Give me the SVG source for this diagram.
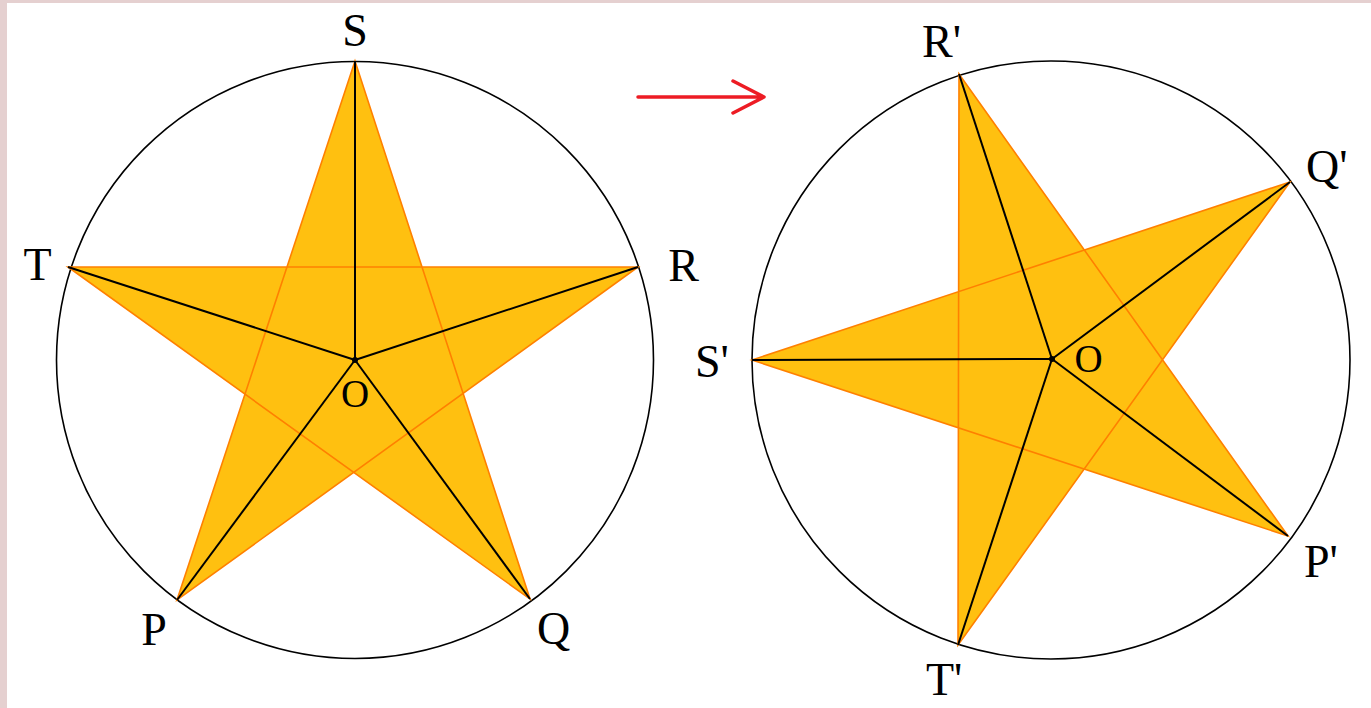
<svg xmlns="http://www.w3.org/2000/svg" width="1371" height="708" viewBox="0 0 1371 708">
<style>
.circ{fill:none;stroke:#000;stroke-width:1.6}
.star{fill:#FFC010;stroke:#FF8000;stroke-width:1.6;fill-rule:nonzero;stroke-linejoin:miter}
.rad{stroke:#000;stroke-width:2;fill:none}
.lbl{font-family:"Liberation Serif","Times New Roman",serif;font-size:46px;fill:#000}
.mid{text-anchor:middle}
.olbl{font-family:"Liberation Serif","Times New Roman",serif;font-size:39px;fill:#000;text-anchor:middle}
.arrow{stroke:#ED1C24;stroke-width:3.5;fill:none;stroke-linecap:round;stroke-linejoin:round}
</style>
<rect x="0" y="0" width="1371" height="708" fill="#E5D0D0"/>
<rect x="7" y="3" width="1364" height="705" fill="#FFFFFF"/>
<g id="left-figure">
<circle class="circ" cx="355" cy="360" r="298.5"/>
<polygon class="star" points="355,61 177,600 638,267 68,267 530,599"/>
<g class="rad">
<line x1="355" y1="360" x2="355" y2="61"/>
<line x1="355" y1="360" x2="638" y2="267"/>
<line x1="355" y1="360" x2="68" y2="267"/>
<line x1="355" y1="360" x2="177" y2="600"/>
<line x1="355" y1="360" x2="530" y2="599"/>
</g>
<circle cx="355" cy="360" r="3" fill="#000"/>
<text class="lbl mid" x="355" y="46">S</text>
<text class="lbl mid" x="37.5" y="280">T</text>
<text class="lbl mid" x="683.5" y="281">R</text>
<text class="lbl mid" x="154" y="645">P</text>
<text class="lbl mid" x="553.5" y="644">Q</text>
<text class="olbl" x="355" y="407">O</text>
</g>
<g id="connectors">
<path class="arrow" d="M638,97 H764 M733,81 L764,97 L733,113"/>
</g>
<g id="right-figure">
<circle class="circ" cx="1051" cy="360" r="299"/>
<polygon class="star" points="959,74 958,645 1290,182 752,360 1288,536"/>
<g class="rad">
<line x1="1052" y1="359" x2="959" y2="74"/>
<line x1="1052" y1="359" x2="1290" y2="182"/>
<line x1="1052" y1="359" x2="1288" y2="536"/>
<line x1="1052" y1="359" x2="958" y2="645"/>
<line x1="1052" y1="359" x2="752" y2="360"/>
</g>
<circle cx="1052" cy="359" r="3" fill="#000"/>
<text class="lbl" x="922" y="57">R'</text>
<text class="lbl" x="1306" y="182">Q'</text>
<text class="lbl" x="1304" y="577">P'</text>
<text class="lbl" x="926" y="695">T'</text>
<text class="lbl" x="695" y="377">S'</text>
<text class="olbl" x="1088.5" y="372">O</text>
</g>
</svg>
